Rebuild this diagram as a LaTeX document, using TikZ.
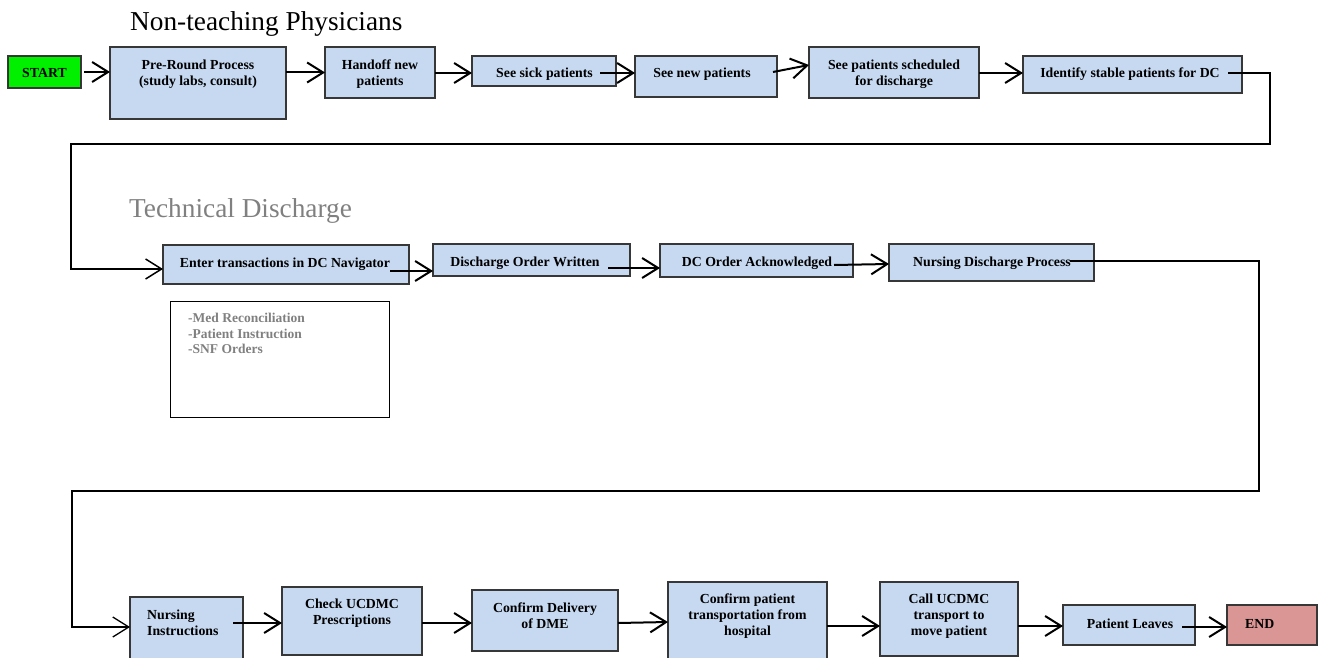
\documentclass[tikz,border=0pt]{standalone}
\usepackage{fontspec}
\setmainfont{Liberation Serif}
\usetikzlibrary{arrows.meta,calc}
\definecolor{boxblue}{RGB}{198,217,241}
\definecolor{startgreen}{RGB}{0,240,0}
\definecolor{endred}{RGB}{217,150,148}
\definecolor{notegray}{RGB}{128,128,128}
\definecolor{edgegray}{RGB}{55,55,55}
\begin{document}
\begin{tikzpicture}[x=1pt,y=-1pt,
  stepbox/.style={draw=edgegray, line width=1.3pt, fill=boxblue, anchor=north west, inner sep=0pt, outer sep=0pt},
  txt/.style={font=\bfseries\fontsize{13.8}{16}\selectfont, align=center, inner sep=0pt},
  title/.style={font=\fontsize{27.3}{32}\selectfont, anchor=base west, inner sep=0pt},
  arr/.style={line width=2pt, -{Straight Barb[length=16pt,width=20pt]}},
  looparr/.style={line width=1.5pt, -{Straight Barb[length=16pt,width=20pt]}},
]
\useasboundingbox (0,0) rectangle (1322,658);
\clip (0,0) rectangle (1322,658);

% titles
\node[title] (t1) at (130,31) {Non-teaching Physicians};
\node[title, text=notegray] (t2) at (129,217) {Technical Discharge};

% row 1
\node[stepbox, fill=startgreen, minimum width=73pt, minimum height=32pt] (start) at (8,56) {};
\node[txt] (startT) at (44.5,73) {START};
\node[stepbox, minimum width=176pt, minimum height=72pt] (pre) at (110,47) {};
\node[txt] (preT) at (198,74) {Pre-Round Process\\(study labs, consult)};
\node[stepbox, minimum width=110pt, minimum height=51pt] (handoff) at (325,47) {};
\node[txt] (handoffT) at (380,74) {Handoff new\\patients};
\node[stepbox, minimum width=144pt, minimum height=30pt] (sick) at (472,56) {};
\node[txt] (sickT) at (544.5,74) {See sick patients};
\node[stepbox, minimum width=142pt, minimum height=41pt] (new) at (635,56) {};
\node[txt] (newT) at (702,74) {See new patients};
\node[stepbox, minimum width=170pt, minimum height=51pt] (sched) at (809,47) {};
\node[txt] (schedT) at (894,74) {See patients scheduled\\for discharge};
\node[stepbox, minimum width=219pt, minimum height=37pt] (ident) at (1023,56) {};
\node[txt] (identT) at (1130,74) {Identify stable patients for DC};

% row 2
\node[stepbox, minimum width=246pt, minimum height=39pt] (enter) at (163,245) {};
\node[txt] (enterT) at (285,264) {Enter transactions in DC Navigator};
\node[stepbox, minimum width=197pt, minimum height=32pt] (dow) at (433,244) {};
\node[txt] (dowT) at (525,263) {Discharge Order Written};
\node[stepbox, minimum width=193pt, minimum height=33pt] (dca) at (660,244) {};
\node[txt] (dcaT) at (757,263) {DC Order Acknowledged};
\node[stepbox, minimum width=205pt, minimum height=37pt] (nds) at (889,244) {};
\node[txt] (ndsT) at (992,263) {Nursing Discharge Process};

\node[draw=black, line width=0.9pt, fill=white, anchor=north west, inner sep=0pt, minimum width=219pt, minimum height=116pt] (note) at (170,301) {};
\node[font=\bfseries\fontsize{13.5}{15.5}\selectfont, text=notegray, align=left, anchor=north west, inner sep=0pt] (noteT) at (188,313) {-Med Reconciliation\\-Patient Instruction\\-SNF Orders};

% row 3
\node[stepbox, minimum width=113pt, minimum height=85pt] (ni) at (130,597) {};
\node[txt, align=left, anchor=north west] (niT) at (147,610) {Nursing\\Instructions};
\node[stepbox, minimum width=140pt, minimum height=68pt] (cu) at (282,587) {};
\node[txt] (cuT) at (352,613) {Check UCDMC\\Prescriptions};
\node[stepbox, minimum width=146pt, minimum height=61pt] (cd) at (472,590) {};
\node[txt] (cdT) at (545,616) {Confirm Delivery\\of DME};
\node[stepbox, minimum width=159pt, minimum height=100pt] (ct) at (668,582) {};
\node[txt] (ctT) at (747.5,616) {Confirm patient\\transportation from\\hospital};
\node[stepbox, minimum width=138pt, minimum height=74pt] (call) at (880,582) {};
\node[txt] (callT) at (949,616) {Call UCDMC\\transport to\\move patient};
\node[stepbox, minimum width=132pt, minimum height=40pt] (pl) at (1063,605) {};
\node[txt] (plT) at (1130,624) {Patient Leaves};
\node[stepbox, fill=endred, minimum width=90pt, minimum height=40pt] (end) at (1227,605) {};
\node[txt, anchor=west] (endT) at (1245,624) {END};

% loop corners
\coordinate (r1) at (1270,144);
\coordinate (l1) at (71,144);
\coordinate (r2) at (1259,491);
\coordinate (l2) at (72,491);

% connectors row 1
\draw[arr] ($(start.east)+(3,0)$) -- (pre.west |- start.east);
\draw[arr] (pre.east |- handoff.west) -- (handoff.west);
\draw[arr] (handoff.east |- 0,73) -- (sick.west |- 0,73);
\draw[arr] ($(sick.east |- 0,73)+(-16,0)$) -- (new.west |- 0,73);
\draw[arr] ($(new.east |- 0,72)+(-4,0)$) -- (sched.west |- 0,65);
\draw[arr] (sched.east |- 0,73) -- (ident.west |- 0,73);
\draw[looparr] ($(ident.east |- 0,73)+(-14,0)$) -| (r1) -- (l1) |- (enter.west |- 0,269);

% connectors row 2
\draw[arr] ($(enter.east |- 0,271)+(-19,0)$) -- (dow.west |- 0,271);
\draw[arr] ($(dow.east |- 0,268)+(-22,0)$) -- (dca.west |- 0,268);
\draw[arr] ($(dca.east |- 0,265)+(-19,0)$) -- (nds.west |- 0,264);
\draw[looparr, line width=1.3pt] ($(nds.east |- 0,261)+(-24,0)$) -| (r2) -- (l2) |- (ni.west |- 0,627);

% connectors row 3
\draw[arr] ($(ni.east |- 0,623)+(-10,0)$) -- (cu.west |- 0,623);
\draw[arr] (cu.east |- 0,623) -- (cd.west |- 0,623);
\draw[arr] (cd.east |- 0,623) -- (ct.west |- 0,622);
\draw[arr] (ct.east |- 0,626) -- (call.west |- 0,626);
\draw[arr] (call.east |- 0,626) -- (pl.west |- 0,626);
\draw[arr] ($(pl.east |- 0,627)+(-13,0)$) -- (end.west |- 0,627);
\end{tikzpicture}
\end{document}
